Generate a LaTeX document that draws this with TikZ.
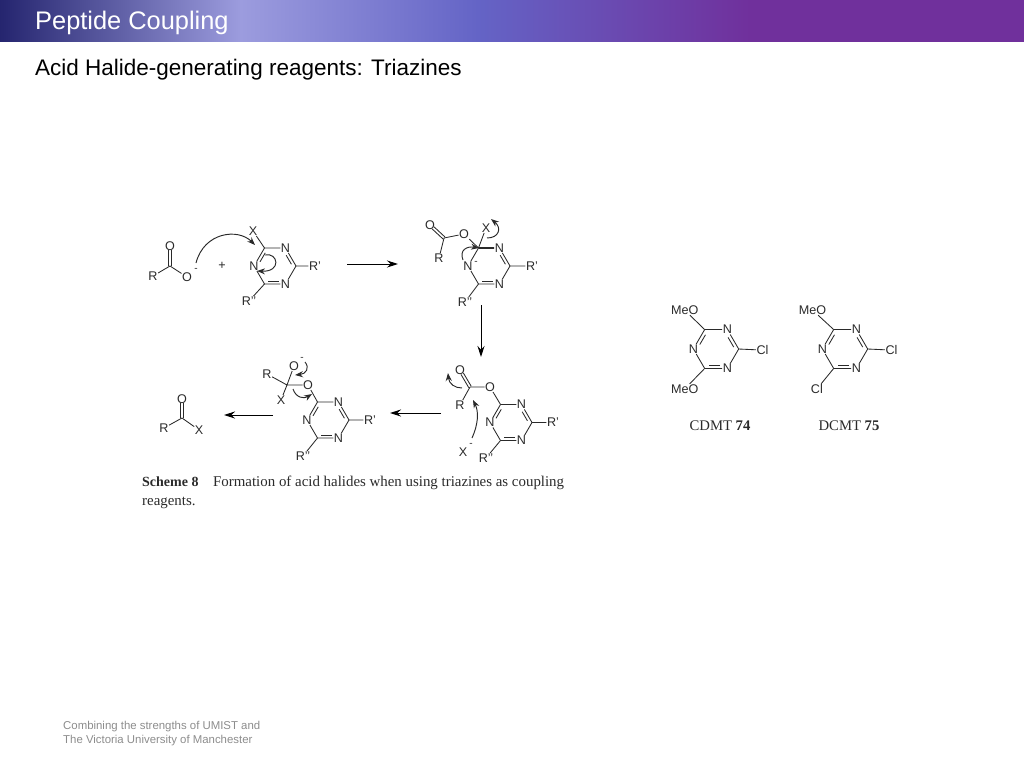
\documentclass[tikz,border=0pt]{standalone}
\usepackage{fontspec}
\setmainfont{Liberation Sans}
\newfontfamily\capfont{Liberation Serif}
\usetikzlibrary{calc,arrows.meta}
\definecolor{barA}{HTML}{25256F}
\definecolor{barB}{HTML}{9C9CDE}
\definecolor{barC}{HTML}{6464C6}
\definecolor{barD}{HTML}{70309C}
\definecolor{inkc}{HTML}{2A2A2A}
\definecolor{footc}{HTML}{8C8C8C}
\tikzset{
  atom/.style={inner sep=.4pt,font=\fontsize{12.6}{12.6}\selectfont,text=inkc},
  charge/.style={inner sep=0pt,font=\fontsize{10}{10}\selectfont,text=inkc},
  bond/.style={draw=inkc,line width=.85pt},
  rxnarrow/.style={draw=black,line width=1pt,-{Stealth[length=11pt,width=7pt]}},
  curlyarrow/.style={draw=inkc,line width=.95pt,-{Stealth[length=8pt,width=6pt]}},
  capt/.style={inner sep=0pt,anchor=base west,font=\capfont\fontsize{14.9}{14.9}\selectfont,text=inkc},
  cname/.style={inner sep=0pt,font=\capfont\fontsize{14.7}{14.7}\selectfont,text=inkc}
}
% ring atoms are numbered clockwise from the upper left carbon
\newcommand{\triazine}[1]{
  \coordinate(#1c)at(0,0);
  \coordinate(#1a)at(-10.5,-18);
  \node[atom](#1b)at(10.5,-18){N};
  \coordinate(#1d)at(21,0);
  \node[atom](#1e)at(10.5,18){N};
  \coordinate(#1f)at(-10.5,18);
  \node[atom](#1g)at(-21,0){N};
  \draw[bond](#1a)--(#1b) (#1b)--(#1d) (#1d)--(#1e) (#1e)--(#1f) (#1f)--(#1g) (#1g)--(#1a);
  \innerbond{#1}{b}{d}
  \innerbond{#1}{e}{f}
}
\newcommand{\innerbond}[3]{
  \draw[bond]($(#1#2)!.28!(#1#3)!.17!(#1c)$)--($(#1#3)!.12!(#1#2)!.17!(#1c)$);
}
% carbonyl, both strokes set off from the line C to O
\newcommand{\carbonyl}[2]{
  \draw[bond]($(#1)!1.4pt!90:(#2)$)--($(#2)!.22!(#1)!1.4pt!-90:(#1)$)
    ($(#1)!1.4pt!-90:(#2)$)--($(#2)!.22!(#1)!1.4pt!90:(#1)$);
}
\begin{document}
\begin{tikzpicture}[x=1pt,y=-1pt]
  \useasboundingbox(0,0)rectangle(1024,768);
  % title bar
  \shade[left color=barA,right color=barB](0,0)rectangle(240.5,42);
  \shade[left color=barB,right color=barC](240,0)rectangle(477.5,42);
  \shade[left color=barC,right color=barD](477,0)rectangle(750.5,42);
  \fill[barD](750,0)rectangle(1024,42);
  \node[inner sep=0pt,anchor=base west,text=white,font=\fontsize{25.4}{25.4}\selectfont](title)at(35,30){Peptide Coupling};
  \node[inner sep=0pt,anchor=base west,text=black,font=\fontsize{22.5}{22.5}\selectfont](subtitle)at(35,75){Acid Halide-generating reagents: Triazines};
  \node[inner sep=0pt,anchor=base west,text=footc,font=\fontsize{11.4}{11.4}\selectfont](footA)at(63,729){Combining the strengths of UMIST and};
  \node[inner sep=0pt,anchor=base west,text=footc,font=\fontsize{11.4}{11.4}\selectfont](footB)at(63,743){The Victoria University of Manchester};
  % carboxylate
  \coordinate(aC)at(170,266);
  \node[atom](aO)at(170,246){O};
  \node[atom](aR)at(153,276){R};
  \node[atom](aOm)at(187,277){O};
  \node[charge](aM)at(196,270){-};
  \draw[bond](aC)--(aR) (aC)--(aOm);
  \carbonyl{aC}{aO}
  \node[atom](plus)at(222,266){+};
  \begin{scope}[shift={(275,266)}]
    \triazine{p}
    \innerbond{p}{g}{a}
    \node[atom](pX)at(-22,-35){X};
    \node[atom](pRa)at(40,0){R'};
    \node[atom](pRb)at(-26,35){R{'}{'}};
    \draw[bond](pa)--(pX) (pd)--(pRa) (pf)--(pRb);
  \end{scope}
  \coordinate(arAs)at(196,263);
  \coordinate(arAe)at(255,245);
  \draw[curlyarrow](arAs)..controls(204,232)and(238,228)..(arAe);
  \coordinate(arBs)at(265,255);
  \coordinate(arBe)at(257,271);
  \draw[curlyarrow](arBs)..controls(278,252)and(282,272)..(arBe);
  \coordinate(stepAs)at(347,264);
  \coordinate(stepAe)at(398,264);
  \draw[rxnarrow](stepAs)--(stepAe);
  % tetrahedral adduct
  \begin{scope}[shift={(489,266)}]
    \triazine{q}
    \node[charge](qM)at(-13,-3){-};
    \node[atom](qX)at(-3,-38){X};
    \node[atom](qRa)at(43,0){R'};
    \node[atom](qRb)at(-24,36){R{'}{'}};
    \node[atom](qO)at(-25,-32){O};
    \coordinate(qCo)at(-45,-28);
    \node[atom](qOd)at(-59,-41){O};
    \node[atom](qR)at(-50,-8){R};
    \draw[bond](qa)--(qX) (qd)--(qRa) (qf)--(qRb) (qa)--(qO) (qO)--(qCo) (qCo)--(qR);
    \carbonyl{qCo}{qOd}
    \draw[line width=1.5pt,draw=inkc](qa)--(qb);
    \coordinate(qAs)at(-2,-28);
    \coordinate(qAe)at(2,-47);
    \draw[curlyarrow](qAs)..controls(10,-28)and(13,-38)..(qAe);
    \coordinate(qBs)at(-26,-6);
    \coordinate(qBe)at(-10,-18);
    \draw[curlyarrow](qBs)..controls(-30,-16)and(-22,-20)..(qBe);
  \end{scope}
  \coordinate(stepBs)at(481,305);
  \coordinate(stepBe)at(481,357);
  \draw[rxnarrow](stepBs)--(stepBe);
  % activated ester
  \begin{scope}[shift={(511,422.5)}]
    \triazine{r}
    \innerbond{r}{g}{a}
    \node[atom](rRa)at(42,0){R'};
    \node[atom](rRb)at(-25,35.5){R{'}{'}};
    \node[atom](rO)at(-21,-35.5){O};
    \coordinate(rCo)at(-41,-35.5);
    \node[atom](rOd)at(-51,-52.5){O};
    \node[atom](rR)at(-51,-17.5){R};
    \draw[bond](rd)--(rRa) (rf)--(rRb) (ra)--(rO) (rO)--(rCo) (rCo)--(rR);
    \carbonyl{rCo}{rOd}
    \node[atom](rX)at(-48,29.5){X};
    \node[charge](rM)at(-40,22){-};
  \end{scope}
  \coordinate(rAs)at(472,438);
  \coordinate(rAe)at(473,400);
  \draw[curlyarrow](rAs)..controls(478,425)and(479,412)..(rAe);
  \coordinate(rBs)at(462,388);
  \coordinate(rBe)at(448,373);
  \draw[curlyarrow](rBs)..controls(455,388)and(449,384)..(rBe);
  \coordinate(stepCs)at(441,413);
  \coordinate(stepCe)at(390,413);
  \draw[rxnarrow](stepCs)--(stepCe);
  % second adduct
  \begin{scope}[shift={(328,420)}]
    \triazine{s}
    \innerbond{s}{g}{a}
    \node[atom](sRa)at(42,0){R'};
    \node[atom](sRb)at(-25,36){R{'}{'}};
    \node[atom](sO)at(-20,-35){O};
    \coordinate(sCt)at(-41,-35);
    \node[atom](sOm)at(-34,-54){O};
    \node[charge](sM)at(-26,-61){-};
    \node[atom](sR)at(-61,-46){R};
    \node[atom](sX)at(-47,-20){X};
    \draw[bond](sd)--(sRa) (sf)--(sRb) (sa)--(sO) (sO)--(sCt) (sCt)--(sOm) (sCt)--(sR) (sCt)--(sX);
    \coordinate(sAs)at(-23,-58);
    \coordinate(sAe)at(-33,-45);
    \draw[curlyarrow](sAs)..controls(-18,-52)and(-22,-46)..(sAe);
    \coordinate(sBs)at(-35,-31);
    \coordinate(sBe)at(-16,-26);
    \draw[curlyarrow](sBs)..controls(-32,-22)and(-24,-21)..(sBe);
  \end{scope}
  \coordinate(stepDs)at(273,415);
  \coordinate(stepDe)at(224,415);
  \draw[rxnarrow](stepDs)--(stepDe);
  % acid halide
  \coordinate(tC)at(182,418);
  \node[atom](tO)at(182,399){O};
  \node[atom](tR)at(164,428){R};
  \node[atom](tX)at(199,430){X};
  \draw[bond](tC)--(tR) (tC)--(tX);
  \carbonyl{tC}{tO}
  % caption
  \node[capt,font=\capfont\fontsize{14}{14}\selectfont](capA)at(142,486){\textbf{Scheme 8}};
  \node[capt](capB)at(213,486){Formation of acid halides when using triazines as coupling};
  \node[capt](capC)at(142,505){reagents.};
  % reagents
  \begin{scope}[shift={(716,349)},scale=1.08]
    \triazine{u}
    \innerbond{u}{g}{a}
    \node[atom](uOa)at(-29,-36){MeO};
    \node[atom](uOb)at(-29,37){MeO};
    \node[atom](uCl)at(43,1){Cl};
    \draw[bond](ua)--(uOa) (uf)--(uOb) (ud)--(uCl);
  \end{scope}
  \node[cname](uName)at(720,426){CDMT \textbf{74}};
  \begin{scope}[shift={(845,349)},scale=1.08]
    \triazine{v}
    \innerbond{v}{g}{a}
    \node[atom](vOa)at(-30,-36){MeO};
    \node[atom](vCb)at(-26,37){Cl};
    \node[atom](vCl)at(43,1){Cl};
    \draw[bond](va)--(vOa) (vf)--(vCb) (vd)--(vCl);
  \end{scope}
  \node[cname](vName)at(849,426){DCMT \textbf{75}};
\end{tikzpicture}
\end{document}
